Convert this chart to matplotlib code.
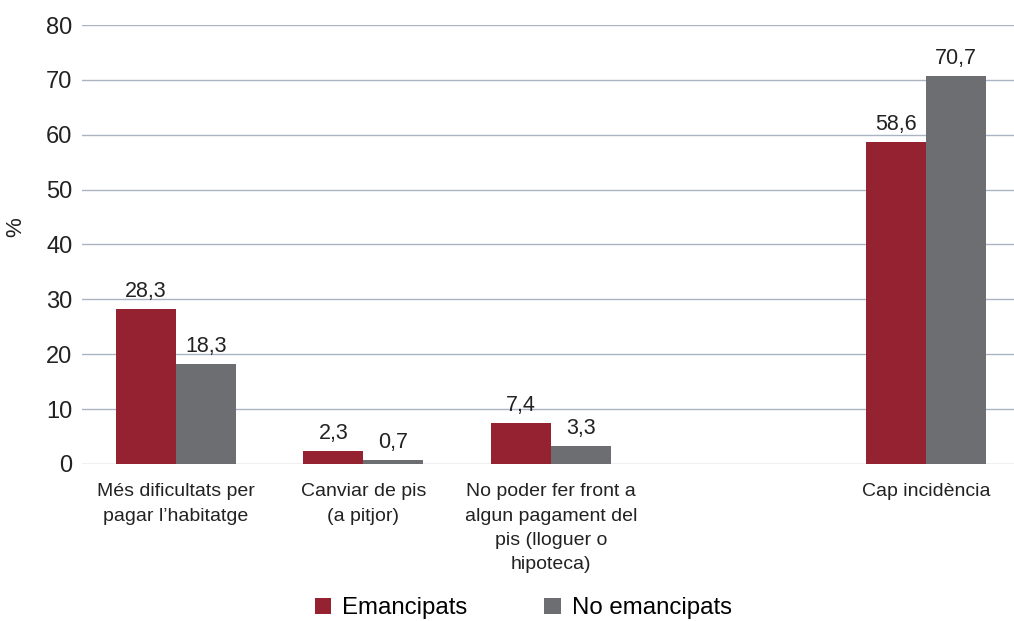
import numpy as np
import matplotlib.pyplot as plt

plt.rcParams['font.family'] = ['Liberation Sans', 'DejaVu Sans']

# Data
categories = ['Més dificultats per\npagar l\u2019habitatge', 'Canviar de pis\n(a pitjor)',
              'No poder fer front a\nalgun pagament del\npis (lloguer o\nhipoteca)', 'Cap incidència']
emancipats = [28.3, 2.3, 7.4, 58.6]
no_emancipats = [18.3, 0.7, 3.3, 70.7]
series_names = ['Emancipats', 'No emancipats']
yticks = [0, 10, 20, 30, 40, 50, 60, 70, 80]

red = '#952230'
grey = '#6D6E71'

fig = plt.figure(figsize=(10.14, 6.21), dpi=100)
ax = fig.add_axes([82 / 1014, 1 - 464 / 621, 938 / 1014, (464 - 25) / 621])

# four groups on five slots, the fourth slot stays empty
pos = np.array([0, 1, 2, 4])
w = 0.32
b1 = ax.bar(pos - w / 2, emancipats, w, color=red, label=series_names[0], zorder=3)
b2 = ax.bar(pos + w / 2, no_emancipats, w, color=grey, label=series_names[1], zorder=3)

for bars, vals in [(b1, emancipats), (b2, no_emancipats)]:
    for rect, v in zip(bars, vals):
        ax.annotate(f'{v:.1f}'.replace('.', ','), (rect.get_x() + rect.get_width() / 2, v),
                    xytext=(0, 5), textcoords='offset points', ha='center', va='bottom',
                    fontsize=15.5, color='#222222')

ax.set_xlim(-0.5, 4.5)
ax.set_ylim(0, 80)
ax.set_yticks(yticks)
ax.set_xticks(pos)
ax.set_xticklabels(categories, fontsize=14, color='#222222', linespacing=1.55)
ax.tick_params(axis='y', labelsize=17, colors='#222222', length=0, pad=7)
ax.tick_params(axis='x', length=0, pad=14)
ax.yaxis.grid(True, color='#A9B4C2', lw=1, zorder=0)
for s in ax.spines.values():
    s.set_visible(False)
ax.set_ylabel('%', fontsize=16, color='#222222')
ax.yaxis.set_label_coords(-0.059, 0.54)

fig.legend(handles=[b1, b2], loc='lower center', bbox_to_anchor=(0.516, -0.032), ncol=2,
           frameon=False, fontsize=17.3, handlelength=0.68, handleheight=0.68,
           handletextpad=0.47, columnspacing=3.2)

fig.savefig('out.png', dpi=100)
